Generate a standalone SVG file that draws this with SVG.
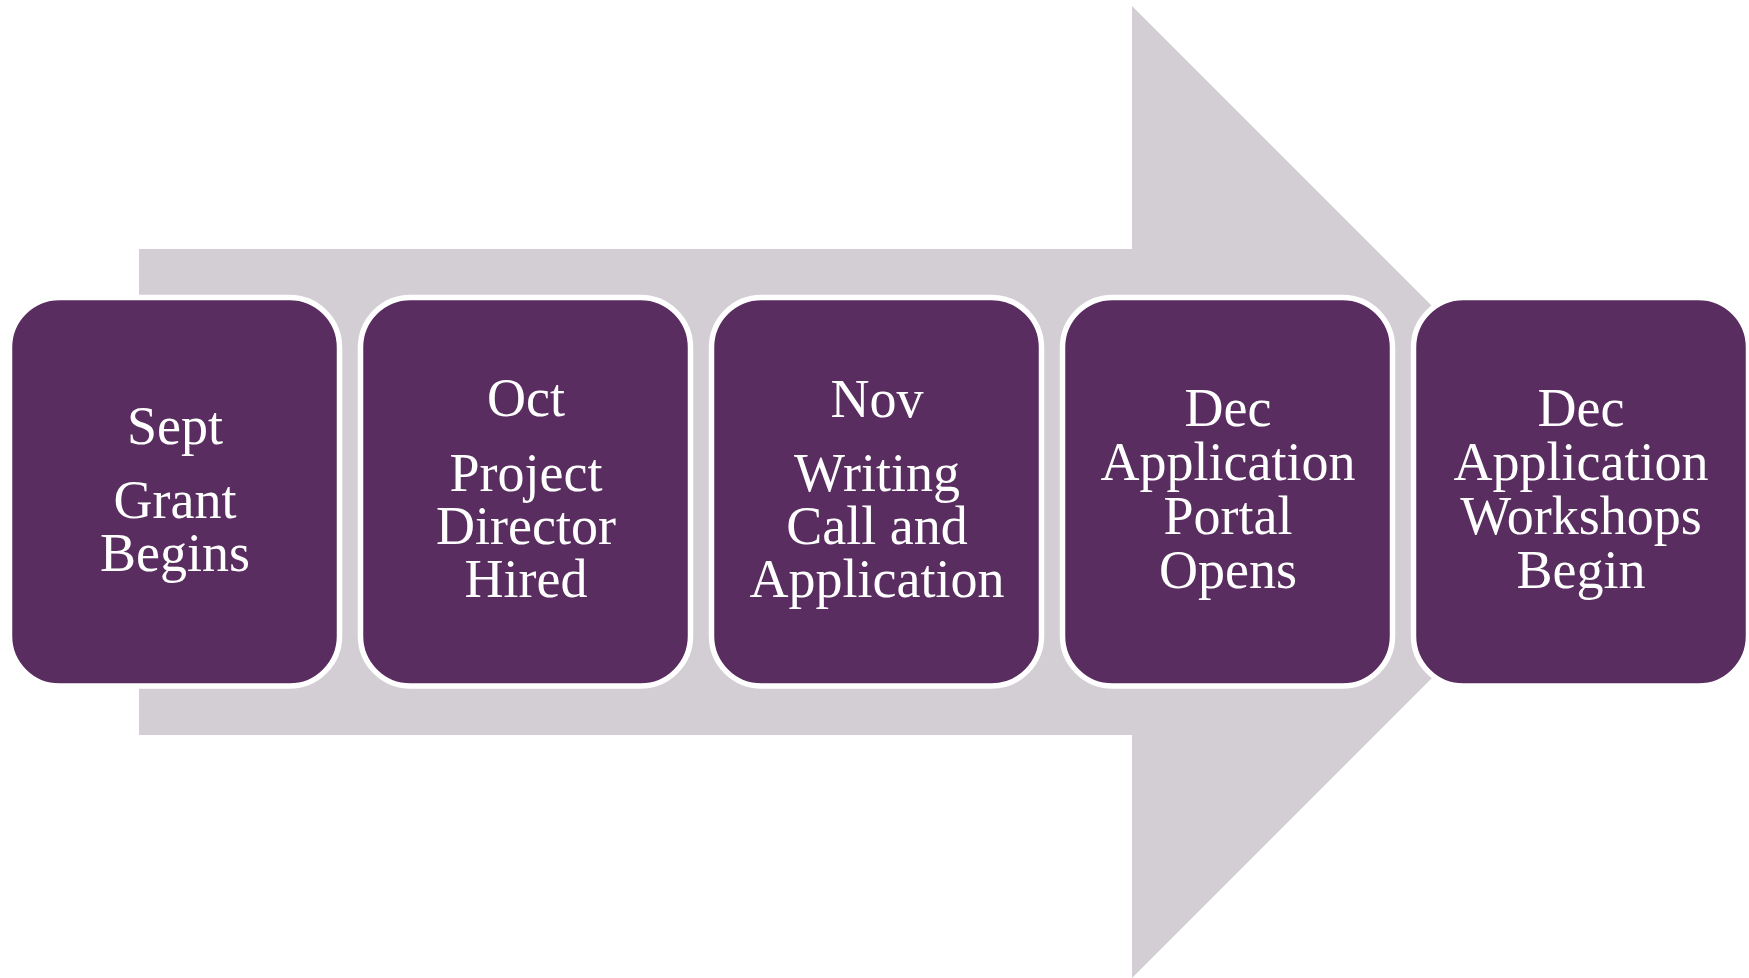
<svg xmlns="http://www.w3.org/2000/svg" width="1749" height="978" viewBox="0 0 1749 978">
<style>
.box{fill:#592D5F;stroke:#FFFFFF;stroke-width:5.5}
.t{font-family:"Liberation Serif","Times New Roman",serif;font-size:54px;fill:#FFFFFF;text-anchor:middle}
</style>
<rect width="1749" height="978" fill="#FFFFFF"/>
<g id="arrow">
<polygon points="139,249 1132,249 1132,6 1618,492 1132,978 1132,735 139,735" fill="#D3CED4"/>
</g>
<g id="node1">
<rect class="box" x="9.5" y="297.5" width="330" height="388.5" rx="50"/>
<text class="t" x="175" y="444">Sept</text>
<text class="t" x="175" y="518">Grant</text>
<text class="t" x="175" y="571">Begins</text>
</g>
<g id="node2">
<rect class="box" x="360.5" y="297.5" width="330" height="388.5" rx="50"/>
<text class="t" x="526" y="416">Oct</text>
<text class="t" x="526" y="491">Project</text>
<text class="t" x="526" y="544">Director</text>
<text class="t" x="526" y="597">Hired</text>
</g>
<g id="node3">
<rect class="box" x="711.5" y="297.5" width="330" height="388.5" rx="50"/>
<text class="t" x="877" y="417">Nov</text>
<text class="t" x="877" y="491">Writing</text>
<text class="t" x="877" y="544">Call and</text>
<text class="t" x="877" y="597">Application</text>
</g>
<g id="node4">
<rect class="box" x="1062.5" y="297.5" width="330" height="388.5" rx="50"/>
<text class="t" x="1228" y="426">Dec</text>
<text class="t" x="1228" y="480">Application</text>
<text class="t" x="1228" y="534">Portal</text>
<text class="t" x="1228" y="588">Opens</text>
</g>
<g id="node5">
<rect class="box" x="1413.5" y="297.5" width="335" height="388.5" rx="50"/>
<text class="t" x="1581" y="426">Dec</text>
<text class="t" x="1581" y="480">Application</text>
<text class="t" x="1581" y="534">Workshops</text>
<text class="t" x="1581" y="588">Begin</text>
</g>
<g id="connectors"></g>
</svg>
